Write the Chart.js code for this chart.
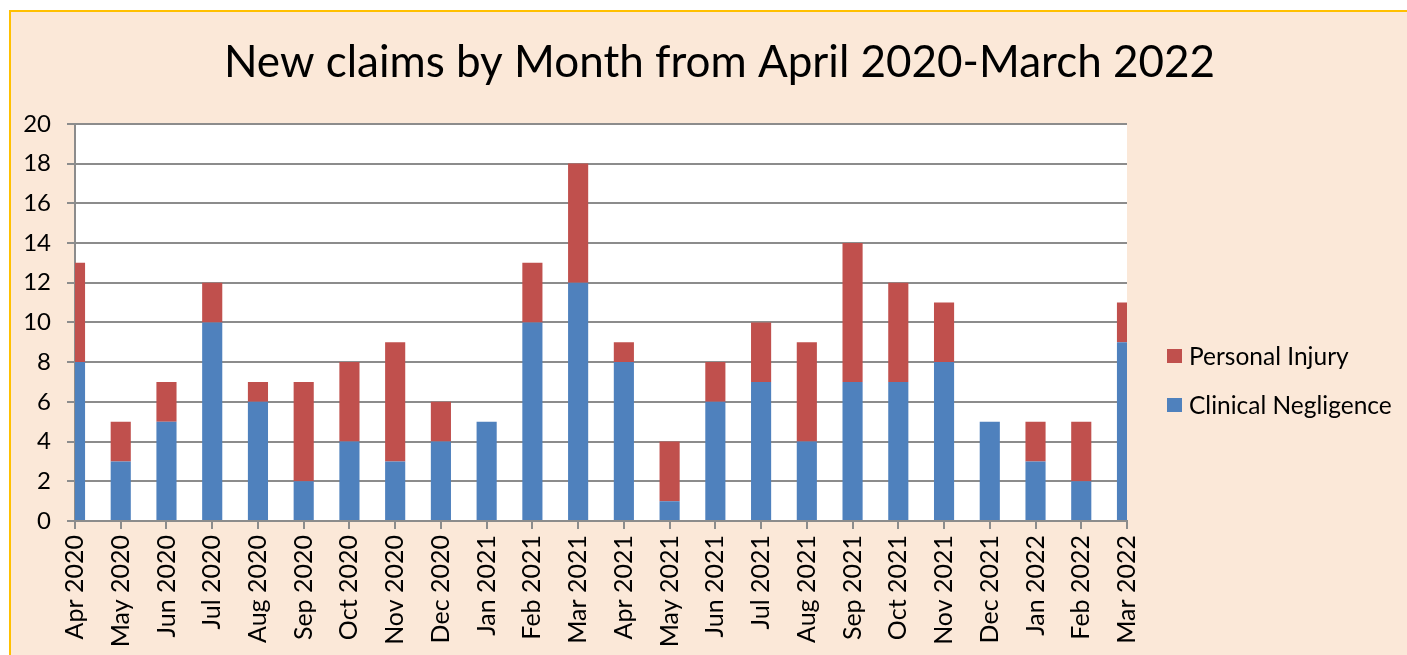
<!DOCTYPE html>
<html lang="en">
<head>
    <meta charset="UTF-8">
    <title>New claims by Month</title>
    <script src="https://cdn.jsdelivr.net/npm/chart.js"></script>
    <style>
        html, body { margin: 0; padding: 0; background: #fff; }
        .frame {
            position: absolute;
            left: 9px;
            top: 10px;
            width: 1420px;
            height: 700px;
            border-top: 2px solid #FFC000;
            border-left: 2px solid #FFC000;
            background: #FBE8D8;
        }
        .holder {
            position: absolute;
            left: 0;
            top: 0;
            width: 1407px;
            height: 655px;
        }
    </style>
</head>
<body>
    <div class="frame"></div>
    <div class="holder"><canvas id="claimsChart" width="1407" height="655"></canvas></div>

    <script>
        // Data
        const months = [
            'Apr 2020', 'May 2020', 'Jun 2020', 'Jul 2020', 'Aug 2020', 'Sep 2020',
            'Oct 2020', 'Nov 2020', 'Dec 2020', 'Jan 2021', 'Feb 2021', 'Mar 2021',
            'Apr 2021', 'May 2021', 'Jun 2021', 'Jul 2021', 'Aug 2021', 'Sep 2021',
            'Oct 2021', 'Nov 2021', 'Dec 2021', 'Jan 2022', 'Feb 2022', 'Mar 2022'
        ];
        const clinicalNegligence = [8, 3, 5, 10, 6, 2, 4, 3, 4, 5, 10, 12, 8, 1, 6, 7, 4, 7, 7, 8, 5, 3, 2, 9];
        const personalInjury     = [5, 2, 2, 2, 1, 5, 4, 6, 2, 0, 3, 6, 1, 3, 2, 3, 5, 7, 5, 3, 0, 2, 3, 2];
        const yTicks = { min: 0, max: 20, step: 2 };

        const FONT = 'Lato, "Open Sans", sans-serif';
        const GRID = '#8c8c8c';

        // white plot area behind the bars
        const plotBackground = {
            id: 'plotBackground',
            beforeDraw(chart) {
                const { ctx, chartArea: a } = chart;
                ctx.save();
                ctx.fillStyle = '#ffffff';
                ctx.fillRect(a.left, a.top, a.right - a.left, a.bottom - a.top);
                ctx.restore();
            }
        };

        // legend drawn to the right, Excel style (last series on top)
        const sideLegend = {
            id: 'sideLegend',
            afterDraw(chart) {
                const { ctx, chartArea: a } = chart;
                const items = chart.data.datasets.slice().reverse();
                ctx.save();
                ctx.font = '24.5px ' + FONT;
                ctx.textBaseline = 'middle';
                ctx.textAlign = 'left';
                items.forEach((ds, i) => {
                    const cy = 356 + i * 49;
                    const x = a.right + 40;
                    ctx.fillStyle = ds.backgroundColor;
                    ctx.fillRect(x, cy - 7, 15, 14);
                    ctx.fillStyle = '#000';
                    ctx.fillText(ds.label, x + 22, cy + 1);
                });
                ctx.restore();
            }
        };

        new Chart(document.getElementById('claimsChart'), {
            type: 'bar',
            data: {
                labels: months,
                datasets: [
                    {
                        label: 'Clinical Negligence',
                        data: clinicalNegligence,
                        backgroundColor: '#4F81BD',
                        borderWidth: 0,
                        clip: 0
                    },
                    {
                        label: 'Personal Injury',
                        data: personalInjury,
                        backgroundColor: '#C0504D',
                        borderWidth: 0,
                        clip: 0
                    }
                ]
            },
            options: {
                responsive: false,
                animation: false,
                categoryPercentage: 1,
                barPercentage: 0.44,
                // negative right padding keeps the title centred where the original has it
                layout: { padding: { left: 16, right: -16, top: 0, bottom: 0 } },
                plugins: {
                    legend: { display: false },
                    tooltip: { enabled: false },
                    title: {
                        display: true,
                        text: 'New claims by Month from April 2020-March 2022',
                        color: '#000',
                        font: { family: FONT, size: 44, weight: 'normal', lineHeight: 1.2 },
                        padding: { top: 36, bottom: 35 }
                    }
                },
                scales: {
                    x: {
                        stacked: true,
                        offset: false,
                        grid: {
                            offset: false,
                            drawOnChartArea: false,
                            drawTicks: true,
                            tickLength: 8,
                            color: GRID,
                            lineWidth: 2
                        },
                        border: { color: GRID, width: 2 },
                        ticks: {
                            color: '#000',
                            font: { family: FONT, size: 25 },
                            minRotation: 90,
                            maxRotation: 90,
                            autoSkip: false,
                            padding: 6
                        },
                        afterFit(scale) { scale.height = 134; }
                    },
                    y: {
                        stacked: true,
                        min: yTicks.min,
                        max: yTicks.max,
                        grid: {
                            color: GRID,
                            lineWidth: 2,
                            tickLength: 8
                        },
                        border: { color: GRID, width: 2 },
                        ticks: {
                            stepSize: yTicks.step,
                            color: '#000',
                            font: { family: FONT, size: 24 },
                            padding: 16
                        },
                        afterFit(scale) { scale.width = 59; }
                    },
                    // empty axis that keeps room on the right for the legend
                    legendSpace: {
                        type: 'linear',
                        position: 'right',
                        display: true,
                        grid: { display: false },
                        border: { display: false },
                        ticks: { display: false },
                        afterFit(scale) { scale.width = 296; }
                    }
                }
            },
            plugins: [plotBackground, sideLegend]
        });
    </script>
</body>
</html>
